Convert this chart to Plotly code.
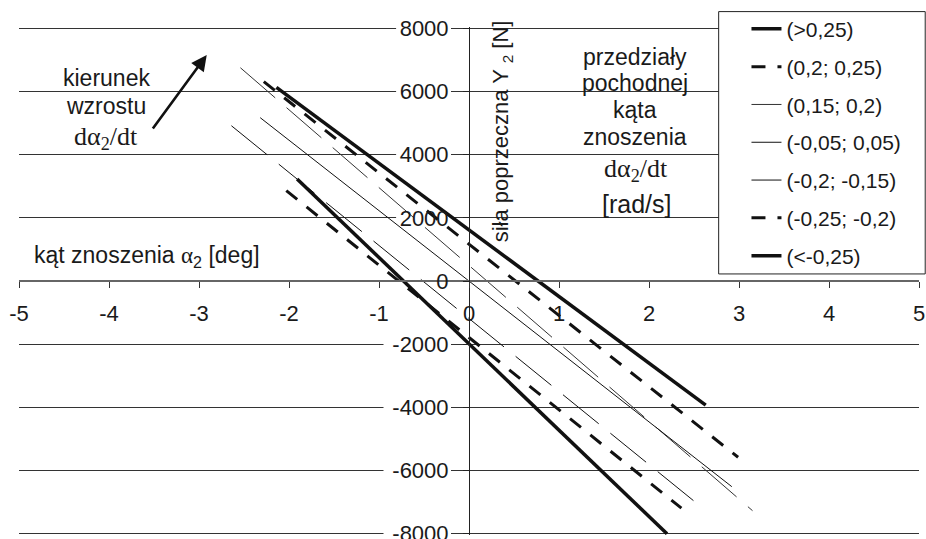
import plotly.graph_objects as go

# ---- data ----
series_names = ["(>0,25)", "(0,2; 0,25)", "(0,15; 0,2)", "(-0,05; 0,05)",
                "(-0,2; -0,15)", "(-0,25; -0,2)", "(<-0,25)"]
alpha_start = [-2.14, -2.28, -2.54, -2.32, -2.64, -2.03, -1.91]
alpha_end = [2.63, 2.99, 3.15, 2.92, 2.53, 2.36, 2.20]
force_start = [6130, 6310, 6750, 5170, 4915, 2860, 3230]
force_end = [-3930, -5580, -7270, -6510, -7035, -7190, -8000]

x_tick_vals = [-5, -4, -3, -2, -1, 0, 1, 2, 3, 4, 5]
x_tick_text = ["-5", "-4", "-3", "-2", "-1", "0", "1", "2", "3", "4", "5"]
y_tick_vals = [-8000, -6000, -4000, -2000, 0, 2000, 4000, 6000, 8000]
y_tick_text = ["-8000", "-6000", "-4000", "-2000", "0", "2000", "4000", "6000", "8000"]

# ---- styles ----
line_widths = [3.5, 3, 1, 1, 1, 3, 3.5]
line_dashes = ["solid", "14px,12px", "46px,15px", "solid", "46px,15px", "14px,12px", "solid"]
line_colors = ["#111", "#111", "#333", "#111", "#111", "#111", "#111"]

SANS = "Liberation Sans, Arial, sans-serif"
SERIF = "Liberation Serif, Times New Roman, serif"
TXT = "#1a1a1a"

fig = go.Figure()
for i, name in enumerate(series_names):
    fig.add_trace(go.Scatter(
        x=[alpha_start[i], alpha_end[i]],
        y=[force_start[i], force_end[i]],
        mode="lines", name=name, legendgroup=name,
        line=dict(color=line_colors[i], width=line_widths[i], dash=line_dashes[i]),
    ))

# white masks behind the y tick labels (grid lines are interrupted there)
for v, t in zip(y_tick_vals, y_tick_text):
    w = 0.14 * len(t) + 0.05
    fig.add_shape(type="rect", xref="x", yref="y", x0=-0.2 - w, x1=-0.2,
                  y0=v - 300, y1=v + 300, line=dict(width=0),
                  fillcolor="white", layer="between")

# legend box (white, hides grid lines)
fig.add_shape(type="rect", xref="paper", yref="paper",
              x0=0.7774, x1=1.0069, y0=0.5139, y1=1.0303,
              line=dict(color="#222", width=1), fillcolor="white", layer="above")

def ann(text, x, y, size=23, family=SANS, xanchor="center", angle=0):
    fig.add_annotation(text=text, x=x, y=y, xref="x", yref="y", showarrow=False,
                       xanchor=xanchor, yanchor="middle", textangle=angle,
                       font=dict(size=size, family=family, color=TXT))

ann("kąt znoszenia <span style='font-family:Liberation Serif'>α</span><sub>2</sub> [deg]", -4.86, 760, xanchor="left")
ann("kierunek", -4.03, 6430)
ann("wzrostu", -4.03, 5540)
ann("dα<sub>2</sub>/dt", -4.03, 4520, size=26, family=SERIF)
ann("siła poprzeczna Y <sub>2</sub> [N]", 0.37, 4748, size=22, angle=-90)
ann("przedziały", 1.84, 7091)
ann("pochodnej", 1.84, 6268)
ann("kąta", 1.84, 5413)
ann("znoszenia", 1.84, 4558)
ann("dα<sub>2</sub>/dt", 1.86, 3500, size=26, family=SERIF)
ann("[rad/s]", 1.86, 2437, size=25)

# arrow "kierunek wzrostu"
fig.add_annotation(x=-2.914, y=7154, xref="x", yref="y", text="", showarrow=True,
                   ax=-55, ay=75, arrowhead=2, arrowsize=1.2, arrowwidth=2.6,
                   arrowcolor="#111")

fig.update_layout(
    width=926, height=539,
    margin=dict(l=19, r=7, t=27, b=4, autoexpand=False),
    paper_bgcolor="white", plot_bgcolor="white",
    font=dict(family=SANS, color=TXT, size=22),
    showlegend=True,
    legend=dict(x=0.8083, y=1.036, xanchor="left", yanchor="top",
                bgcolor="rgba(0,0,0,0)", borderwidth=0, maxheight=600,
                font=dict(size=21, family=SANS, color=TXT),
                tracegroupgap=7.5),
    xaxis=dict(range=[-5, 5], anchor="free", position=0.5, automargin=False,
               showline=True, linecolor="#666", linewidth=1.5,
               ticks="outside", ticklen=6, tickcolor="#333",
               tickvals=x_tick_vals, ticktext=x_tick_text,
               showgrid=False, zeroline=False, ticklabelstandoff=7,
               tickfont=dict(size=22)),
    yaxis=dict(range=[-8040, 8040], anchor="free", position=0.5, automargin=False,
               showline=True, linecolor="#222", linewidth=1,
               ticks="outside", ticklen=6, tickcolor="#222",
               tickvals=y_tick_vals, ticktext=y_tick_text,
               showgrid=True, gridcolor="#333", gridwidth=1,
               zeroline=False, ticklabelstandoff=10, ticklabeloverflow="allow",
               tickfont=dict(size=22)),
)

fig.write_html("out.html")
